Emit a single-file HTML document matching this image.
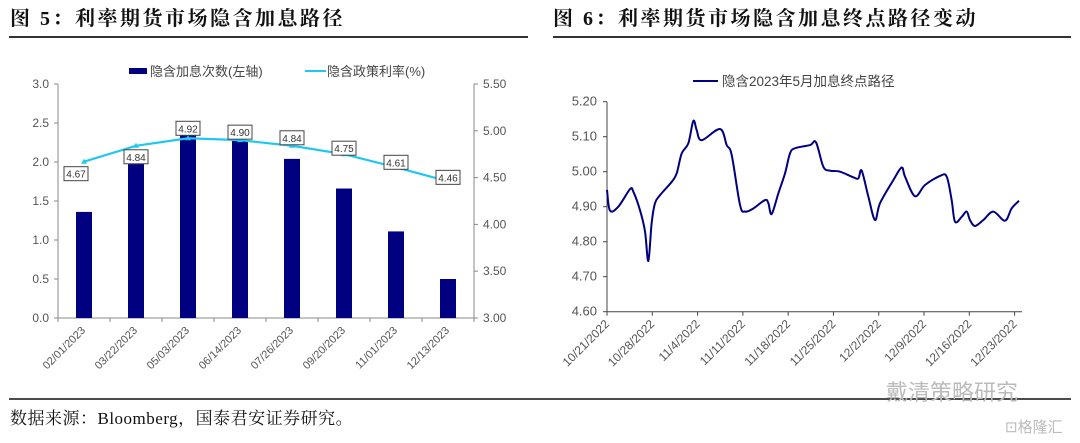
<!DOCTYPE html>
<html><head><meta charset="utf-8"><style>
body{margin:0;background:#fff;width:1080px;height:443px;overflow:hidden}
svg{display:block}
</style></head><body>
<svg id="s" width="1080" height="443" xmlns="http://www.w3.org/2000/svg" font-family="Liberation Sans, Noto Sans CJK SC, sans-serif">
<text x="10" y="25" font-size="20" font-weight="bold" letter-spacing="2.5" font-family="Liberation Serif, Noto Serif CJK SC, serif" fill="#111">图 5：利率期货市场隐含加息路径</text>
<text x="553" y="25" font-size="20" font-weight="bold" letter-spacing="2.5" font-family="Liberation Serif, Noto Serif CJK SC, serif" fill="#111">图 6：利率期货市场隐含加息终点路径变动</text>
<line x1="9" y1="37" x2="528" y2="37" stroke="#333" stroke-width="2"/>
<line x1="553" y1="37" x2="1071" y2="37" stroke="#333" stroke-width="2"/>
<line x1="9" y1="399" x2="1071" y2="399" stroke="#111" stroke-width="1.5"/>
<text x="10" y="424" font-size="17" letter-spacing="0.5" font-family="Liberation Serif, Noto Serif CJK SC, serif" fill="#111">数据来源：Bloomberg，国泰君安证券研究。</text>
<text x="886" y="400" font-size="22" fill="#bbb">戴清策略研究</text>
<text x="1005" y="432" font-size="15" fill="#bbb">⊡格隆汇</text>
<g id="L"></g><g id="R"></g>
</svg>
<script>
// left chart data
const lCats=["02/01/2023","03/22/2023","05/03/2023","06/14/2023","07/26/2023","09/20/2023","11/01/2023","12/13/2023"];
const lBars=[1.36,2.02,2.35,2.28,2.04,1.66,1.11,0.50];
const lRates=[4.67,4.84,4.92,4.90,4.84,4.75,4.61,4.46];
const lLeftTicks=["0.0","0.5","1.0","1.5","2.0","2.5","3.0"];
const lRightTicks=["3.00","3.50","4.00","4.50","5.00","5.50"];
// right chart data
const rDays=[0,0.46,1.75,3.55,4.07,5.1,5.87,6.39,6.9,7.42,8.2,10.0,10.77,11.54,12.57,13.34,13.86,14.63,17.47,18.5,19.27,20.56,21.33,22.62,24.42,24.94,25.45,26.48,27.51,28.28,29.06,31.38,32.3,33.44,34.47,36.01,38.07,38.85,39.36,40.39,41.42,42.2,44.26,45.54,46.06,47.6,49.15,51.47,52.5,53.27,53.79,54.82,55.59,56.1,56.88,58.17,59.71,61.51,62.54,63.68];
const rVals=[4.948,4.889,4.90,4.95,4.943,4.89,4.83,4.745,4.853,4.91,4.933,4.971,4.995,5.052,5.081,5.145,5.119,5.09,5.122,5.076,5.048,4.905,4.886,4.895,4.919,4.91,4.879,4.938,4.995,5.052,5.067,5.076,5.084,5.014,5.003,5.00,4.984,4.981,5.003,4.929,4.862,4.91,4.976,5.012,4.986,4.93,4.962,4.988,4.986,4.919,4.857,4.871,4.886,4.862,4.845,4.862,4.886,4.86,4.895,4.917];
const rTickLabels=["10/21/2022","10/28/2022","11/4/2022","11/11/2022","11/18/2022","11/25/2022","12/2/2022","12/9/2022","12/16/2022","12/23/2022"];
const rYTicks=["4.60","4.70","4.80","4.90","5.00","5.10","5.20"];

const NS="http://www.w3.org/2000/svg";
function mk(p,t,a,txt){const e=document.createElementNS(NS,t);for(const k in a)e.setAttribute(k,a[k]);if(txt!=null)e.textContent=txt;p.appendChild(e);return e;}
const L=document.getElementById('L'),R=document.getElementById('R');
// ---- left
const lx0=58,lx1=474,ly0=318,ly1=84;
const cw=(lx1-lx0)/lCats.length;
const lyL=v=>ly0-(v/3)*(ly0-ly1);
const lyR=v=>ly0-((v-3)/2.5)*(ly0-ly1);
const lxc=i=>lx0+cw*(i+0.5);
let e;
e=mk(L,'line',{x1:lx0,y1:ly1,x2:lx0,y2:ly0,stroke:'#888'});
e=mk(L,'line',{x1:lx1,y1:ly1,x2:lx1,y2:ly0,stroke:'#888'});
e=mk(L,'line',{x1:lx0,y1:ly0,x2:lx1,y2:ly0,stroke:'#888'});
lLeftTicks.forEach(t=>{const y=lyL(+t);mk(L,'line',{x1:lx0-4,y1:y,x2:lx0,y2:y,stroke:'#888'});
e=mk(L,'text',{x:lx0-9,y:y+4,'font-size':12,fill:'#555','text-anchor':'end'},t);});
lRightTicks.forEach(t=>{const y=lyR(+t);mk(L,'line',{x1:lx1,y1:y,x2:lx1+4,y2:y,stroke:'#888'});
e=mk(L,'text',{x:lx1+9,y:y+4,'font-size':12,fill:'#555'},t);});
for(let i=0;i<=lCats.length;i++){const x=lx0+cw*i;mk(L,'line',{x1:x,y1:ly0,x2:x,y2:ly0+4,stroke:'#888'});}
lCats.forEach((c,i)=>{const x=lxc(i);
e=mk(L,'rect',{x:x-8,y:lyL(lBars[i]),width:16,height:ly0-lyL(lBars[i]),fill:'#000080'});
e=mk(L,'text',{x:x+2,y:ly0+13,'font-size':11,fill:'#555','text-anchor':'end',transform:`rotate(-45 ${x+2} ${ly0+13})`},c);});
e=mk(L,'polyline',{points:lRates.map((v,i)=>lxc(i)+','+lyR(v)).join(' '),fill:'none',stroke:'#1ec8f0','stroke-width':2.2});
const offs=[[-8,12],[0,11],[0,-10],[0,-8],[0,-8],[0,-6],[0,-5],[0,-4]];
lRates.forEach((v,i)=>{const x=lxc(i),y=lyR(v);
mk(L,'path',{d:`M${x-3},${y+2}L${x+3},${y+2}L${x},${y-3}Z`,fill:'#1ec8f0'});
const cx=x+offs[i][0],cy=y+offs[i][1];
e=mk(L,'rect',{x:cx-12,y:cy-7,width:24,height:14,fill:'#fff',stroke:'#444','stroke-width':1});
e=mk(L,'text',{x:cx,y:cy+4,'font-size':10,fill:'#333','text-anchor':'middle'},v.toFixed(2));});
// legend
e=mk(L,'rect',{x:129,y:68,width:18,height:6,fill:'#000080'});
e=mk(L,'text',{x:150,y:76,'font-size':13,fill:'#444'},'隐含加息次数(左轴)');
e=mk(L,'line',{x1:305,y1:71,x2:326,y2:71,stroke:'#1ec8f0','stroke-width':2});
e=mk(L,'text',{x:327,y:76,'font-size':13,fill:'#444'},'隐含政策利率(%)');
// ---- right
const rx0=607,rx1=1022,ry0=311.7,ry1=101.7,pd=6.47;
const rx=d=>rx0+d*pd, ry=v=>ry0-(v-4.6)/0.6*(ry0-ry1);
e=mk(R,'line',{x1:rx0,y1:ry1,x2:rx0,y2:ry0,stroke:'#444'});
e=mk(R,'line',{x1:rx0,y1:ry0,x2:rx1,y2:ry0,stroke:'#444'});
rYTicks.forEach(t=>{const y=ry(+t);mk(R,'line',{x1:rx0-4,y1:y,x2:rx0,y2:y,stroke:'#444'});
e=mk(R,'text',{x:rx0-10,y:y+4,'font-size':13,fill:'#555','text-anchor':'end'},t);});
rTickLabels.forEach((t,i)=>{const x=rx(i*7);mk(R,'line',{x1:x,y1:ry0,x2:x,y2:ry0+4,stroke:'#444'});
e=mk(R,'text',{x:x+3,y:ry0+13,'font-size':12,fill:'#555','text-anchor':'end',transform:`rotate(-45 ${x+3} ${ry0+13})`},t);});
const P=rDays.map((d,i)=>[rx(d),ry(rVals[i])]);
let d='M'+P[0][0]+','+P[0][1];
for(let i=0;i<P.length-1;i++){const p0=P[Math.max(0,i-1)],p1=P[i],p2=P[i+1],p3=P[Math.min(P.length-1,i+2)];
d+=`C${p1[0]+(p2[0]-p0[0])/6},${p1[1]+(p2[1]-p0[1])/6} ${p2[0]-(p3[0]-p1[0])/6},${p2[1]-(p3[1]-p1[1])/6} ${p2[0]},${p2[1]}`;}
e=mk(R,'path',{d:d,fill:'none',stroke:'#000080','stroke-width':2});
e=mk(R,'line',{x1:693,y1:81,x2:718,y2:81,stroke:'#000080','stroke-width':2});
e=mk(R,'text',{x:722,y:86,'font-size':13.5,fill:'#444'},'隐含2023年5月加息终点路径');
</script>
</body></html>
